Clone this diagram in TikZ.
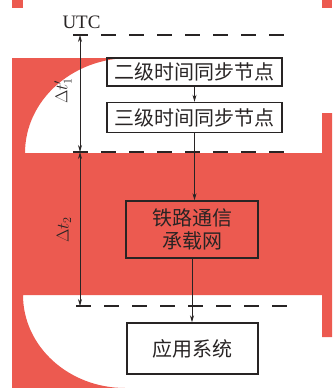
\documentclass[tikz,border=0pt]{standalone}
\usepackage{fontspec}
\usetikzlibrary{arrows.meta}
\newfontfamily\cjk{Noto Sans CJK SC}
\newfontfamily\tms{Liberation Serif}
\definecolor{bgred}{RGB}{236,90,80}
\definecolor{ink}{RGB}{40,36,36}
\begin{document}
\begin{tikzpicture}[x=1pt,y=-1pt,
  boxnode/.style={draw=ink,line width=1.4pt,inner sep=0pt,text=ink,font=\cjk\fontsize{20}{22.5}\selectfont,align=center},
  conn/.style={draw=ink,line width=0.8pt,-{Stealth[length=7pt,width=4pt]}},
  dimline/.style={draw=ink,line width=0.8pt,{Stealth[length=7pt,width=4pt]}-{Stealth[length=7pt,width=4pt]}},
  refline/.style={draw=ink,line width=1.3pt,dash pattern=on 15pt off 13pt},
  lbl/.style={text=ink,inner sep=0pt}]
\useasboundingbox (0,0) rectangle (332,388);
% background shapes
\fill[bgred] (12,0) rectangle (23,8);
\fill[bgred] (322,0) rectangle (332,8);
\fill[bgred] (12,58) -- (130,58)
  arc[start angle=90,end angle=180,x radius=105pt,y radius=95pt]
  -- (322,153) -- (322,113) -- (332,113) -- (332,337) -- (322,337) -- (322,295)
  -- (23,295)
  arc[start angle=180,end angle=270,x radius=102pt,y radius=93pt]
  -- (12,388) -- cycle;
% boxes
\node[boxnode,minimum width=175pt,minimum height=28pt] (b1) at (194.5,72) {二级时间同步节点};
\node[boxnode,minimum width=175pt,minimum height=30pt] (b2) at (194.5,117.5) {三级时间同步节点};
\node[boxnode,minimum width=132pt,minimum height=57pt] (b3) at (192,229.5) {铁路通信\\承载网};
\node[boxnode,minimum width=131pt,minimum height=51pt] (b4) at (192.5,348.5) {应用系统};
% connectors
\draw[conn] (b1.south) -- (b2.north);
\draw[conn] (b2.south) -- (b2.south |- b3.north);
\draw[conn] (b3.south) -- (b3.south |- b4.north);
% reference lines
\coordinate (d1s) at (73,35);  \coordinate (d1e) at (287,35);
\coordinate (d2s) at (73,152); \coordinate (d2e) at (287,152);
\coordinate (d3s) at (76,306); \coordinate (d3e) at (290,306);
\draw[refline] (d1s) -- (d1e);
\draw[refline] (d2s) -- (d2e);
\draw[refline] (d3s) -- (d3e);
\coordinate (a1) at (80,35);
\coordinate (a2) at (80,152);
\coordinate (a3) at (80,306);
\draw[dimline] (a1) -- (a2);
\draw[dimline] (a2) -- (a3);
% labels
\node[lbl,font=\tms\fontsize{19}{19}\selectfont] (utc) at (81.5,22) {UTC};
\node[lbl,rotate=90,font=\fontsize{18}{18}\selectfont] (dt1) at (63,91) {$\Delta t_1'$};
\node[lbl,rotate=90,font=\fontsize{18}{18}\selectfont] (dt2) at (64,230) {$\Delta t_2$};
\end{tikzpicture}
\end{document}
